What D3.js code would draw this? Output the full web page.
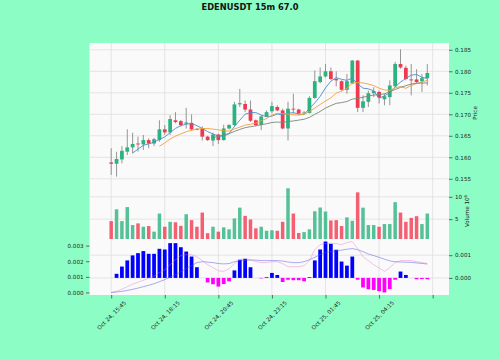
<!DOCTYPE html>
<html><head><meta charset="utf-8">
<script src="https://cdn.jsdelivr.net/npm/d3@7"></script>
<style>body{margin:0;background:#8dfdc6;} svg{display:block;font-family:"DejaVu Sans",sans-serif;}</style>
</head><body><svg id="c" width="500" height="359"></svg>
<script>
// ---------------- data ----------------
const chartTitle = "EDENUSDT 15m 67.0";
const xTickIdx = [0, 10, 20, 30, 40, 50, 60];
const xTickLabels = ["Oct 24, 15:45", "Oct 24, 18:15", "Oct 24, 20:45", "Oct 24, 23:15", "Oct 25, 01:45", "Oct 25, 04:15", ""];
const opens  = [0.1588,0.1585,0.1595,0.1613,0.1623,0.1632,0.1630,0.1640,0.1632,0.1640,0.1665,0.1658,0.1686,0.1684,0.1678,0.1680,0.1666,0.1667,0.1648,0.1639,0.1653,0.1640,0.1667,0.1675,0.1723,0.1724,0.1711,0.1686,0.1675,0.1695,0.1707,0.1717,0.1709,0.1667,0.1713,0.1711,0.1702,0.1703,0.1738,0.1775,0.1788,0.1800,0.1782,0.1777,0.1757,0.1772,0.1825,0.1715,0.1729,0.1749,0.1752,0.1735,0.1740,0.1765,0.1817,0.1808,0.1781,0.1781,0.1777,0.1784];
const highs  = [0.1621,0.1613,0.1626,0.1665,0.1657,0.1648,0.1652,0.1644,0.1645,0.1686,0.1675,0.1698,0.1705,0.1687,0.1715,0.1700,0.1668,0.1672,0.1650,0.1657,0.1655,0.1676,0.1677,0.1729,0.1759,0.1732,0.1732,0.1688,0.1698,0.1709,0.1729,0.1721,0.1713,0.1729,0.1748,0.1713,0.1708,0.1742,0.1802,0.1809,0.1817,0.1809,0.1800,0.1779,0.1794,0.1826,0.1826,0.1744,0.1755,0.1763,0.1755,0.1748,0.1779,0.1822,0.1851,0.1813,0.1817,0.1805,0.1794,0.1817];
const lows   = [0.1559,0.1555,0.1586,0.1605,0.1609,0.1613,0.1617,0.1621,0.1626,0.1636,0.1652,0.1652,0.1679,0.1671,0.1667,0.1662,0.1663,0.1639,0.1638,0.1626,0.1631,0.1639,0.1665,0.1672,0.1717,0.1705,0.1682,0.1672,0.1663,0.1694,0.1702,0.1707,0.1665,0.1639,0.1702,0.1700,0.1700,0.1702,0.1736,0.1772,0.1786,0.1780,0.1765,0.1755,0.1748,0.1770,0.1705,0.1705,0.1717,0.1740,0.1725,0.1721,0.1721,0.1765,0.1806,0.1779,0.1744,0.1772,0.1752,0.1767];
const closes = [0.1585,0.1596,0.1615,0.1623,0.1631,0.1630,0.1640,0.1632,0.1642,0.1665,0.1658,0.1689,0.1682,0.1675,0.1681,0.1665,0.1665,0.1648,0.1640,0.1653,0.1640,0.1667,0.1675,0.1723,0.1726,0.1711,0.1685,0.1675,0.1695,0.1705,0.1719,0.1709,0.1667,0.1713,0.1711,0.1702,0.1704,0.1738,0.1777,0.1788,0.1800,0.1782,0.1779,0.1757,0.1777,0.1825,0.1715,0.1730,0.1749,0.1754,0.1739,0.1742,0.1767,0.1817,0.1809,0.1782,0.1780,0.1775,0.1784,0.1796];
// volume in units of 10^6
const volumes = [4.56,7.2,4.56,7.7,3.68,4.05,3.3,3.45,2.2,6.25,3.3,4.4,4.3,3.5,6.1,4.78,3.3,6.47,1.85,3.3,2.2,3.16,2.72,5.15,7.57,5.73,4.93,2.95,3.3,2.4,2.5,2.4,4.4,11.9,6.25,1.9,2.1,2.72,6.76,7.6,6.7,4.7,4.78,3.46,5.4,4.63,11.0,7.57,3.68,3.68,3.3,3.9,3.9,8.8,6.47,4.4,5.29,5.66,3.9,6.25];
const macdLine = [0,0.00008,0.00021,0.00037,0.00053,0.00066,0.00078,0.00091,0.00104,0.00127,0.00146,0.00178,0.0021,0.00236,0.00242,0.00242,0.00229,0.00204,0.00178,0.00159,0.00139,0.00135,0.00152,0.00184,0.0021,0.00216,0.0021,0.00197,0.00191,0.00191,0.00197,0.00197,0.00184,0.00165,0.00165,0.00165,0.00172,0.00204,0.00274,0.00306,0.00313,0.00315,0.00313,0.00306,0.00319,0.00326,0.00281,0.00229,0.00204,0.00178,0.00157,0.00135,0.00159,0.00191,0.00204,0.00204,0.00204,0.00197,0.00191,0.00186];
const signalLine = [0,0.00003,0.00007,0.00013,0.0002,0.00028,0.00037,0.00046,0.00056,0.00069,0.00082,0.00098,0.00114,0.00133,0.00152,0.00172,0.00191,0.00197,0.00194,0.00191,0.00185,0.00183,0.00185,0.00197,0.00204,0.00207,0.00207,0.00207,0.00204,0.00204,0.00204,0.00204,0.00201,0.00195,0.00191,0.00191,0.00197,0.0021,0.00225,0.00242,0.00255,0.00261,0.00268,0.00271,0.00277,0.00281,0.00274,0.00261,0.00246,0.00236,0.00225,0.00213,0.00202,0.00197,0.00195,0.00194,0.00193,0.00189,0.00186,0.00182];
const macdHist = [0,0.00018,0.0005,0.00077,0.00099,0.00109,0.00118,0.00106,0.00106,0.00128,0.00125,0.00153,0.00153,0.00135,0.00116,0.00094,0.00047,0,-0.0002,-0.00028,-0.00038,-0.00027,-0.00015,0.00033,0.0008,0.00084,0.00047,0,-0.00002,0.00003,0.00022,0.00013,-0.00018,-0.00008,-0.0001,-0.0001,-0.00015,0.00003,0.00077,0.00125,0.0016,0.0015,0.00124,0.00072,0.00054,0.00094,-0.00008,-0.00042,-0.0005,-0.00053,-0.00058,-0.00064,-0.00049,-0.00008,0.00028,0.00013,0,-0.00006,-0.00005,-0.00006];
const maPeriods = [5, 10, 20];
const priceTicks = [0.155,0.160,0.165,0.170,0.175,0.180,0.185];
const volTicks = [5, 10];
const macdTicks = [0, 0.001, 0.002, 0.003];
const histTicks = [0, 0.001];

// ---------------- style ----------------
const BG = "#8dfdc6", FACE = "#fafafa", GRID = "#dedede";
const UP = "#2ab37e", DOWN = "#f0394f", WICK = "#8a8a8a";
const maColors = ["#4c8bc9", "#f2a03d", "#7a877c"];
const FS = 5.6, TXT = "#222";

const svg = d3.select("#c");
svg.append("rect").attr("width",500).attr("height",359).attr("fill",BG);

const n = closes.length;
const X0 = 89.5, X1 = 449;
const P = {top:43, bot:183}, V = {top:183, bot:239}, M = {top:239, bot:295};
const padX = (n + 1) * 0.05;
const x = d3.scaleLinear().domain([-1 - padX, n + padX]).range([X0, X1]);

const lo = d3.min(lows), hi = d3.max(highs), pr = hi - lo;
const yP = d3.scaleLinear().domain([lo - 0.05*pr, hi + 0.05*pr]).range([P.bot, P.top]);
const yV = d3.scaleLinear().domain([0.3*d3.min(volumes), 1.1*d3.max(volumes)]).range([V.bot, V.top]);
const lmin = Math.min(0, d3.min(macdLine), d3.min(signalLine)), lmax = Math.max(d3.max(macdLine), d3.max(signalLine));
const yL = d3.scaleLinear().domain([lmin - 0.05*(lmax-lmin), lmax + 0.05*(lmax-lmin)]).range([M.bot, M.top]);
const hmin = Math.min(0, d3.min(macdHist)), hmax = Math.max(0, d3.max(macdHist));
const yH = d3.scaleLinear().domain([hmin - 0.05*(hmax-hmin), hmax + 0.05*(hmax-hmin)]).range([M.bot, M.top]);

// panels
[P, V, M].forEach(p => {
  svg.append("rect").attr("x",X0).attr("y",p.top).attr("width",X1-X0).attr("height",p.bot-p.top).attr("fill",FACE);
});
const clip = (id, p) => svg.append("clipPath").attr("id",id).append("rect").attr("x",X0).attr("y",p.top).attr("width",X1-X0).attr("height",p.bot-p.top);
clip("cp",P); clip("cv",V); clip("cm",M);

// grids
const grid = svg.append("g").attr("stroke",GRID).attr("stroke-width",0.8);
[P, V, M].forEach(p => {
  xTickIdx.forEach(t => grid.append("line").attr("x1",x(t)).attr("x2",x(t)).attr("y1",p.top).attr("y2",p.bot));
});
priceTicks.forEach(t => grid.append("line").attr("x1",X0).attr("x2",X1).attr("y1",yP(t)).attr("y2",yP(t)));
volTicks.forEach(t => grid.append("line").attr("x1",X0).attr("x2",X1).attr("y1",yV(t)).attr("y2",yV(t)));
histTicks.forEach(t => grid.append("line").attr("x1",X0).attr("x2",X1).attr("y1",yH(t)).attr("y2",yH(t)));

// candles
const bw = x(0.7) - x(0);
const cg = svg.append("g").attr("clip-path","url(#cp)");
d3.range(n).forEach(i => {
  const up = closes[i] > opens[i];
  const col = up ? UP : DOWN;
  cg.append("line").attr("x1",x(i)).attr("x2",x(i)).attr("y1",yP(highs[i])).attr("y2",yP(lows[i]))
    .attr("stroke",WICK).attr("stroke-width",0.9);
  const yt = yP(Math.max(opens[i],closes[i])), yb = yP(Math.min(opens[i],closes[i]));
  cg.append("rect").attr("x",x(i)-bw/2).attr("y",yt).attr("width",bw).attr("height",Math.max(yb-yt,0.9)).attr("fill",col);
});

// moving averages
function sma(arr, p) { return arr.map((v,i) => i < p-1 ? null : d3.mean(arr.slice(i-p+1, i+1))); }
maPeriods.forEach((p,k) => {
  const vals = sma(closes, p);
  const line = d3.line().defined(d => d !== null).x((d,i) => x(i)).y(d => yP(d));
  cg.append("path").attr("d", line(vals)).attr("fill","none").attr("stroke",maColors[k]).attr("stroke-width",0.9);
});

// volume
const vw = x(0.65) - x(0);
const vg = svg.append("g").attr("clip-path","url(#cv)");
d3.range(n).forEach(i => {
  const up = closes[i] > opens[i];
  vg.append("rect").attr("x",x(i)-vw/2).attr("y",yV(volumes[i])).attr("width",vw).attr("height",V.bot - yV(volumes[i]) + 2)
    .attr("fill", up ? UP : DOWN).attr("opacity",0.8);
});

// macd histogram + lines
const hw = x(0.7) - x(0);
const mg = svg.append("g").attr("clip-path","url(#cm)");
d3.range(n).forEach(i => {
  const v = macdHist[i];
  if (v === 0) return;
  const y0 = yH(0), y1 = yH(v);
  mg.append("rect").attr("x",x(i)-hw/2).attr("y",Math.min(y0,y1)).attr("width",hw).attr("height",Math.abs(y1-y0))
    .attr("fill", v > 0 ? "#0000ff" : "#ff00ff");
});
const lineL = d3.line().x((d,i) => x(i)).y(d => yL(d));
mg.append("path").attr("d",lineL(signalLine)).attr("fill","none").attr("stroke","#5050e0").attr("stroke-opacity",0.6).attr("stroke-width",0.8);
mg.append("path").attr("d",lineL(macdLine)).attr("fill","none").attr("stroke","#e070c0").attr("stroke-opacity",0.5).attr("stroke-width",0.8);

// axes
function styleAxis(g) {
  g.select(".domain").remove();
  g.selectAll(".tick line").attr("stroke","#333").attr("stroke-width",0.7);
  g.selectAll("text").attr("font-size",FS).attr("fill",TXT).attr("font-family","DejaVu Sans");
}
svg.append("g").attr("transform",`translate(${X1},0)`)
  .call(d3.axisRight(yP).tickValues(priceTicks).tickFormat(d3.format(".3f")).tickSize(3.5).tickPadding(2.5)).call(styleAxis);
svg.append("g").attr("transform",`translate(${X1},0)`)
  .call(d3.axisRight(yV).tickValues(volTicks).tickFormat(d3.format("d")).tickSize(3.5).tickPadding(2.5)).call(styleAxis);
svg.append("g").attr("transform",`translate(${X1},0)`)
  .call(d3.axisRight(yH).tickValues(histTicks).tickFormat(d3.format(".3f")).tickSize(3.5).tickPadding(2.5)).call(styleAxis);
svg.append("g").attr("transform",`translate(${X0},0)`)
  .call(d3.axisLeft(yL).tickValues(macdTicks).tickFormat(d3.format(".3f")).tickSize(3.5).tickPadding(2.5)).call(styleAxis);

const xa = svg.append("g").attr("transform",`translate(0,${M.bot})`)
  .call(d3.axisBottom(x).tickValues(xTickIdx).tickFormat((d,i) => xTickLabels[i]).tickSize(3.5)).call(styleAxis);
xa.selectAll(".tick text").each(function() {
  const t = d3.select(this);
  const L = this.getComputedTextLength();
  const h = FS * 1.15;
  const cy = 4.5 + (L + h) * Math.SQRT1_2 / 2;
  t.attr("y",0).attr("dy","0.35em").attr("text-anchor","middle").attr("transform",`translate(0,${cy}) rotate(-45)`);
});

// labels
svg.append("text").attr("x",250).attr("y",9.6).attr("text-anchor","middle").attr("font-size",8.3).attr("font-weight","bold")
  .attr("fill","#111").text(chartTitle);
svg.append("text").attr("transform",`translate(477,${(P.top+P.bot)/2}) rotate(-90)`).attr("text-anchor","middle")
  .attr("font-size",FS).attr("fill",TXT).text("Price");
const vl = svg.append("text").attr("transform",`translate(469,${(V.top+V.bot)/2}) rotate(-90)`).attr("text-anchor","middle")
  .attr("font-size",FS).attr("fill",TXT);
vl.append("tspan").text("Volume  10");
vl.append("tspan").attr("font-size",FS*0.7).attr("dy",-2.2).text("6");
</script></body></html>
